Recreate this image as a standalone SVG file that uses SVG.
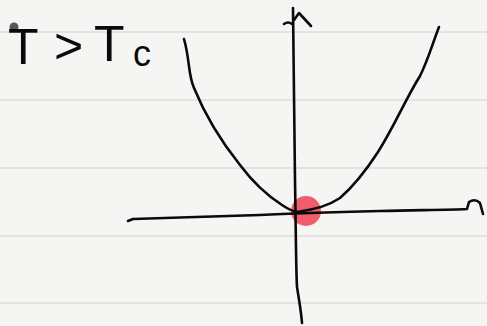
<svg xmlns="http://www.w3.org/2000/svg" width="487" height="326" viewBox="0 0 487 326">
<style>
.rule{stroke:#dcdcdc;stroke-width:1.5}
.ink{fill:none;stroke:#0a0a0a;stroke-width:2.6;stroke-linecap:round;stroke-linejoin:round}
.hand{font-family:"Liberation Sans",Arial,sans-serif;fill:#0a0a0a}
</style>
<rect width="487" height="326" fill="#f5f5f4"/>
<g id="paper-lines">
<line class="rule" x1="0" y1="32" x2="487" y2="32"/>
<line class="rule" x1="0" y1="100" x2="487" y2="100"/>
<line class="rule" x1="0" y1="168" x2="487" y2="168"/>
<line class="rule" x1="0" y1="236" x2="487" y2="236"/>
<line class="rule" x1="0" y1="303" x2="487" y2="303"/>
</g>
<circle id="pen-dot" cx="14" cy="27" r="4.5" fill="#555"/>
<g id="label">
<text class="hand" font-size="50" y="64"><tspan x="8">T</tspan><tspan x="54" font-size="50" dy="-1">&gt;</tspan><tspan x="94" dy="-2">T</tspan><tspan x="133" font-size="36" dy="5">c</tspan></text>
</g>
<g id="minimum-point">
<circle cx="306" cy="211" r="15" fill="#f0505e" fill-opacity="0.92"/>
</g>
<g id="connectors">
<path id="y-axis" class="ink" d="M293,8 C294,60 294,120 295,180 C296,240 296,270 297,287 C299,300 301,310 302,323"/>
<path id="y-arrow" class="ink" d="M284,24 Q288,21 292,24 M294,20 L299,13 L311,26"/>
<path id="x-axis" class="ink" d="M128,221 L133,219 C170,218 220,216 260,215 C300,213 340,212 380,211 C420,210 450,210 467,209 L469,202 Q475,198 480,203 L483,214"/>
<path id="curve-left" class="ink" d="M184,39 C190,60 188,75 194,88 C205,115 220,140 240,165 C255,185 268,196 282,205 C288,209 292,211 297,212"/>
<path id="curve-right" class="ink" d="M439,27 C432,45 428,60 420,76 C405,100 395,125 378,152 C365,172 355,185 340,198 C328,206 316,209 297,212"/>
</g>
</svg>
